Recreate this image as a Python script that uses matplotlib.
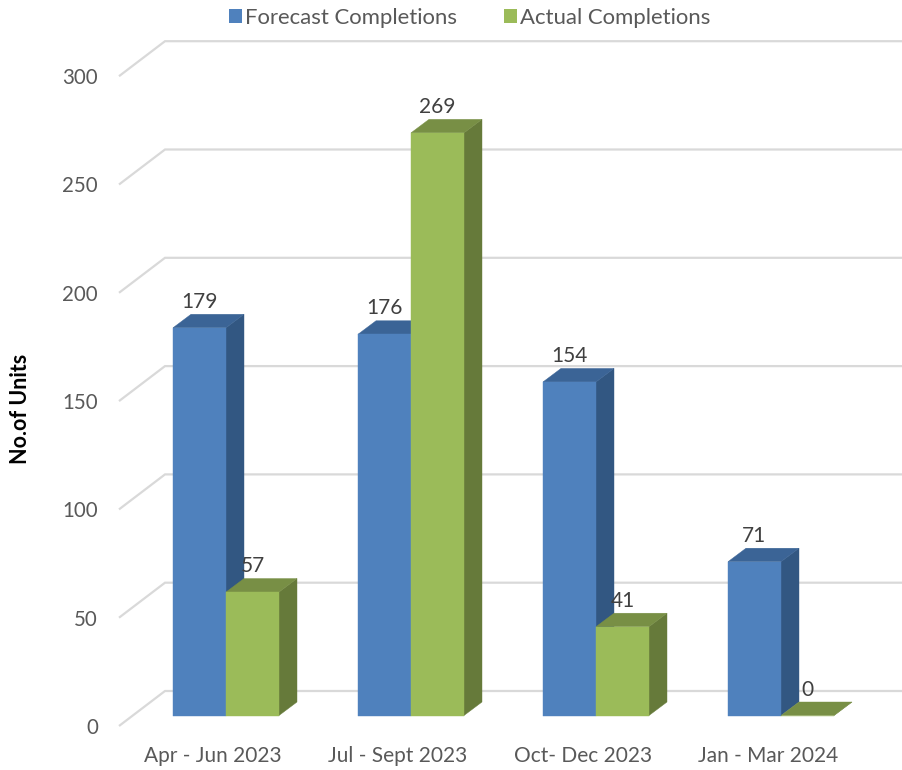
import matplotlib
matplotlib.use("Agg")
import matplotlib.pyplot as plt
from matplotlib.patches import Polygon, Patch

categories = ["Apr - Jun 2023", "Jul - Sept 2023", "Oct- Dec 2023", "Jan - Mar 2024"]
forecast = [179, 176, 154, 71]
actual = [57, 269, 41, 0]
y_ticks = [0, 50, 100, 150, 200, 250, 300]
series_names = ["Forecast Completions", "Actual Completions"]

W, H = 903, 770
FONT = "Lato"
GREY = "#595959"
DARK = "#404040"
PX_PER_CAT = 185.0
PX_PER_UNIT = 2.166
ux = 1 / PX_PER_CAT       # one pixel in x data units
uy = 1 / PX_PER_UNIT      # one pixel in y data units
BAR_W = 53 * ux
DX, DY = 18 * ux, 13.5 * uy          # bar depth
WALL_DX, WALL_DY = 46 * ux, 35 * uy  # side-wall depth
FRONT_Y = -10.5 * uy                 # front edge of the floor vs. bar fronts
FRONT_X = -107 * ux                  # front-left corner of the wall vs. category 0

BLUE = ("#4F81BD", "#325782", "#3B6496")
GREEN = ("#9BBB59", "#667A3A", "#788F45")

fig = plt.figure(figsize=(W / 100, H / 100), dpi=100)
ax = fig.add_axes([100 / W, (H - 746) / H, (W - 100) / W, 746 / H])
ax.set_xlim((100 - 226) * ux, (W - 226) * ux)
ax.set_ylim((715.5 - 746) * uy, 715.5 * uy)
for s in ax.spines.values():
    s.set_visible(False)
ax.patch.set_visible(False)

# side wall and back wall grid lines
for v in y_ticks:
    y0 = v + FRONT_Y
    ax.plot([FRONT_X, FRONT_X + WALL_DX, ax.get_xlim()[1]],
            [y0, y0 + WALL_DY, y0 + WALL_DY],
            color="#D9D9D9", lw=1.6, solid_joinstyle="miter",
            solid_capstyle="butt", zorder=1)


def box(x, value, cols, z):
    front = [(x, 0), (x + BAR_W, 0), (x + BAR_W, value), (x, value)]
    side = [(x + BAR_W, 0), (x + BAR_W + DX, DY), (x + BAR_W + DX, value + DY), (x + BAR_W, value)]
    top = [(x, value), (x + BAR_W, value), (x + BAR_W + DX, value + DY), (x + DX, value + DY)]
    ax.add_patch(Polygon(side, fc=cols[1], ec=cols[1], lw=0.3, zorder=z))
    ax.add_patch(Polygon(top, fc=cols[2], ec=cols[2], lw=0.3, zorder=z))
    ax.add_patch(Polygon(front, fc=cols[0], ec=cols[0], lw=0.3, zorder=z + 0.1))


for i, (f, a) in enumerate(zip(forecast, actual)):
    box(i - BAR_W, f, BLUE, 2)
    box(i, a, GREEN, 3)
    for x, v in ((i - BAR_W / 2, f), (i + BAR_W / 2, a)):
        ax.text(x, v + 26 * uy, str(v), ha="center", va="center",
                fontsize=15, family=FONT, color=DARK, zorder=6)

ax.set_yticks([v + FRONT_Y for v in y_ticks], labels=[str(v) for v in y_ticks])
ax.set_xticks([i - 13 * ux for i in range(len(categories))], labels=categories)
ax.tick_params(axis="y", length=0, labelsize=14.8, labelcolor=GREY, pad=1.4)
ax.tick_params(axis="x", length=0, labelsize=15, labelcolor=GREY, pad=0)
for t in ax.get_xticklabels() + ax.get_yticklabels():
    t.set_family(FONT)

fig.text(21 / W, 1 - 409 / H, "No.of Units", rotation=90, ha="center", va="center",
         fontsize=15.5, fontweight="bold", family=FONT, color="black")

handles = [Patch(fc=BLUE[0], ec="none"), Patch(fc=GREEN[0], ec="none")]
fig.legend(handles, series_names, loc="center", bbox_to_anchor=(469.5 / W, 1 - 18 / H),
           ncol=2, frameon=False, handlelength=0.6, handleheight=0.6, handletextpad=0.12,
           columnspacing=2.15, borderpad=0, borderaxespad=0,
           prop={"family": FONT, "size": 15.9}, labelcolor=GREY)

fig.savefig("out.png", dpi=100)
